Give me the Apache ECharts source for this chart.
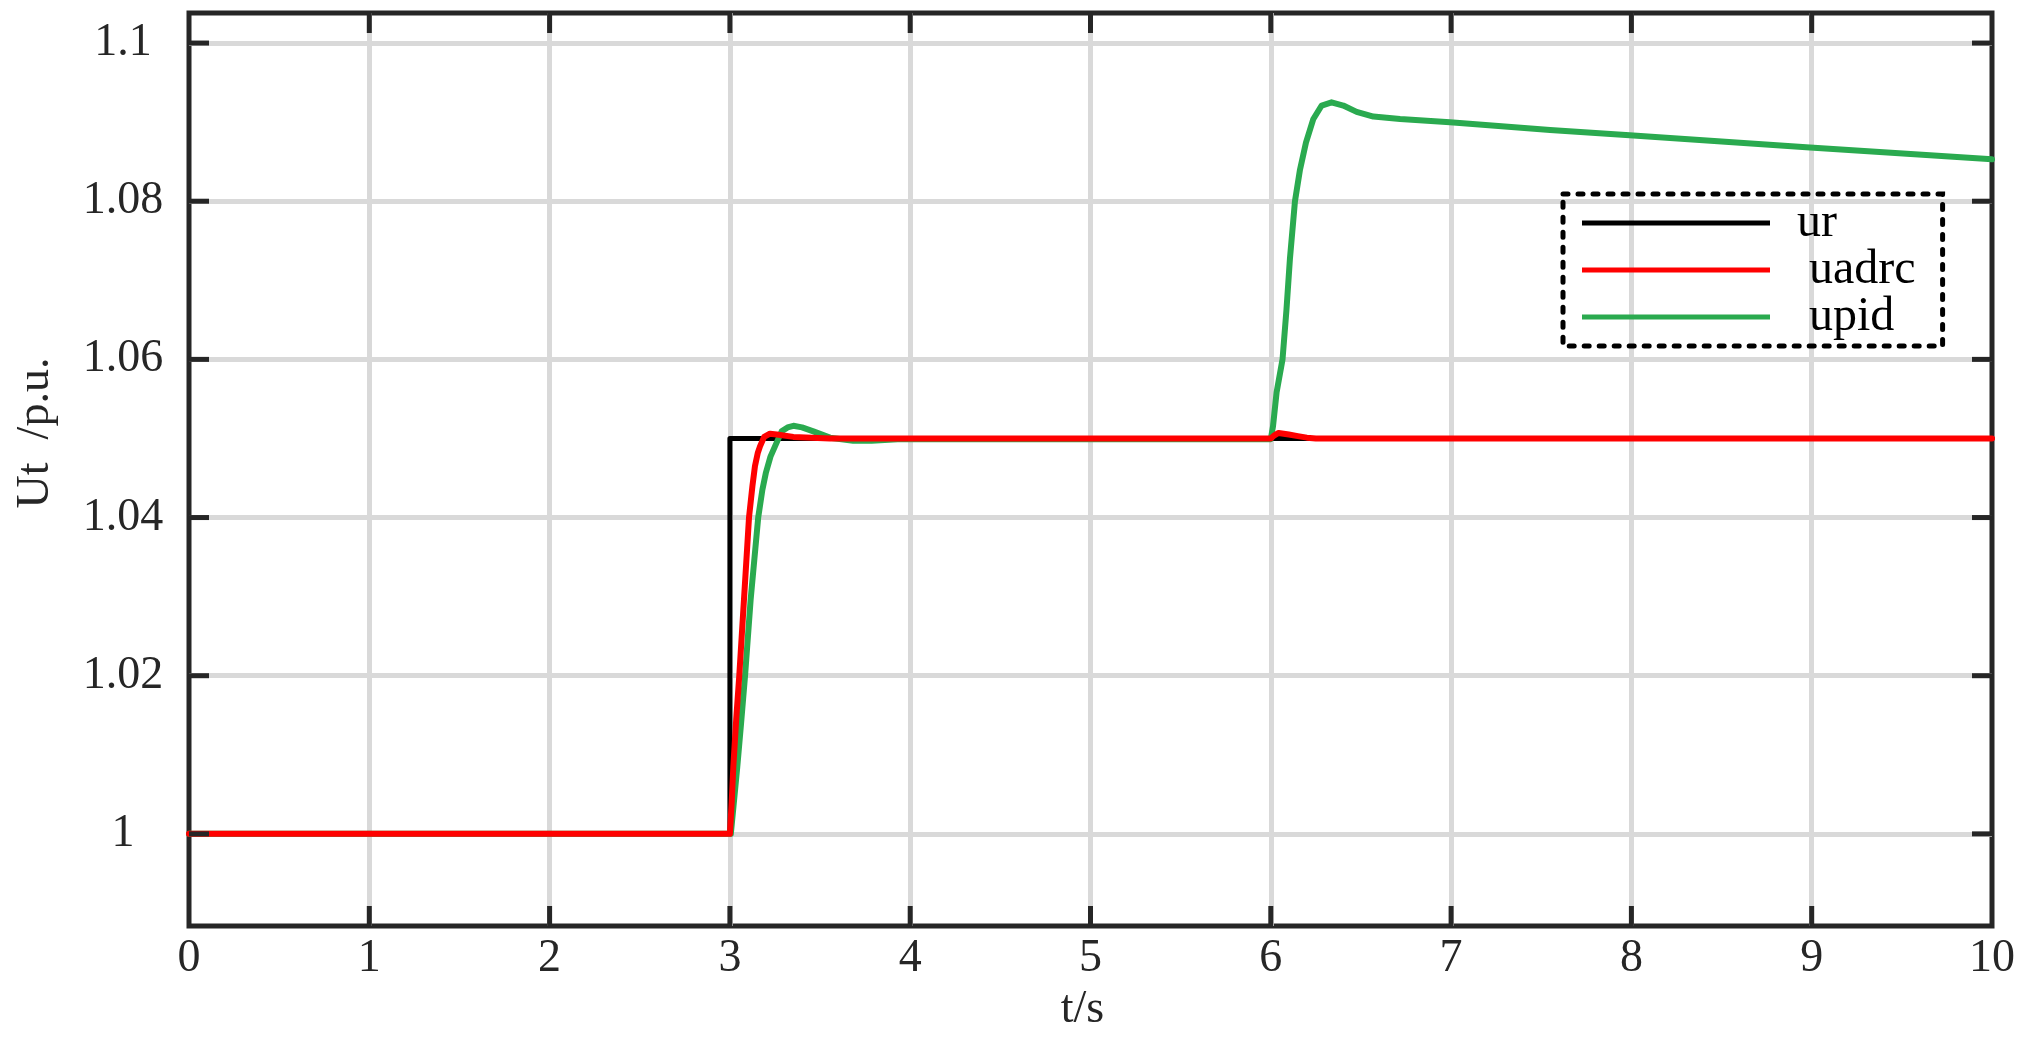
<!DOCTYPE html>
<html>
<head>
<meta charset="utf-8">
<script src="https://cdn.jsdelivr.net/npm/echarts@6/dist/echarts.min.js"></script>
<style>
  html, body { margin: 0; padding: 0; background: #fff; }
  #chart { width: 2019px; height: 1062px; }
</style>
</head>
<body>
<div id="chart"></div>
<script>
// step response of terminal voltage

const xLabels = [0, 1, 2, 3, 4, 5, 6, 7, 8, 9, 10];
const xTicks = [1, 2, 3, 4, 5, 6, 7, 8, 9];
const yTicks = [1, 1.02, 1.04, 1.06, 1.08, 1.1];

// reference
const urT = [0, 3, 3, 10];
const urY = [1, 1, 1.05, 1.05];

// ADRC
const adrcT = [0, 3.0, 3.01, 3.019, 3.035, 3.052, 3.078, 3.106, 3.125, 3.139, 3.155, 3.167, 3.19, 3.222, 3.26, 3.352, 3.555,
    6.0, 6.02, 6.043, 6.1, 6.15, 6.2, 6.25, 10];
const adrcY = [1, 1, 1.004, 1.0085, 1.0145, 1.02, 1.0296, 1.04, 1.044, 1.0465, 1.0482, 1.049, 1.0502, 1.0506, 1.0505, 1.0502, 1.05,
    1.05, 1.0504, 1.0507, 1.0505, 1.0503, 1.0501, 1.05, 1.05];

// PID
const pidT = [0, 3.005, 3.02, 3.041, 3.062, 3.084, 3.115, 3.157, 3.18, 3.2, 3.225, 3.25, 3.287, 3.32, 3.352, 3.4, 3.463, 3.555,
    3.684, 3.786, 3.93, 6.0, 6.012, 6.032, 6.065, 6.087, 6.106, 6.134, 6.162, 6.195, 6.236, 6.282, 6.337, 6.402, 6.476, 6.569,
    6.717, 6.994, 7.549, 7.99, 8.99, 10];
const pidY = [1, 1, 1.0035, 1.0085, 1.014, 1.02, 1.0296, 1.04, 1.0435, 1.0457, 1.0477, 1.049, 1.0509, 1.0514, 1.0516, 1.0514, 1.0509, 1.0501,
    1.0497, 1.0497, 1.0499, 1.0499, 1.0515, 1.0558, 1.06, 1.0663, 1.0727, 1.08, 1.084, 1.0874, 1.0904, 1.0921, 1.0925, 1.0921, 1.0913, 1.0907,
    1.0904, 1.09, 1.089, 1.08835, 1.0868, 1.0853];

const pairs = (t, y) => t.map((v, i) => [v, y[i]]);

const FONT = 'Liberation Serif';
const AXIS = '#262626';
const GRID = '#d9d9d9';
const TICK_LEN = 20;

const X_MIN = 0, X_MAX = 10;
const Y_MIN = 0.98835, Y_MAX = 1.1038;

const chart = echarts.init(document.getElementById('chart'));

// inward tick marks on all four sides of the frame, placed by the axis scales
function tickSeries(vals, side) {
    const data = vals.map(v => (side === 'left' || side === 'right') ? [X_MIN, v] : [v, Y_MIN]);
    return {
        type: 'custom', silent: true, clip: false, z: 5,
        data: data,
        renderItem: function (params, api) {
            let p, d;
            if (side === 'bottom') { p = api.coord([api.value(0), Y_MIN]); d = [0, -TICK_LEN]; }
            else if (side === 'top') { p = api.coord([api.value(0), Y_MAX]); d = [0, TICK_LEN]; }
            else if (side === 'left') { p = api.coord([X_MIN, api.value(1)]); d = [TICK_LEN, 0]; }
            else { p = api.coord([X_MAX, api.value(1)]); d = [-TICK_LEN, 0]; }
            return {
                type: 'line',
                shape: { x1: p[0], y1: p[1], x2: p[0] + d[0], y2: p[1] + d[1] },
                style: { stroke: AXIS, lineWidth: 5 }
            };
        }
    };
}

const option = {
    animation: false,
    backgroundColor: '#fff',
    grid: {
        left: 189, right: 27, top: 13, bottom: 136,
        show: true, borderColor: AXIS, borderWidth: 5
    },
    legend: {
        left: 1563, top: 194,
        orient: 'vertical',
        data: ['ur', ' uadrc', ' upid'],
        icon: 'rect',
        itemWidth: 188, itemHeight: 5, itemGap: -1,
        padding: [5, 27, 5, 19],
        borderColor: '#000', borderWidth: 5,
        borderType: [5, 10], borderCap: 'round',
        textStyle: { fontFamily: FONT, fontSize: 48, color: '#000', padding: [0, 0, 0, 22] }
    },
    xAxis: {
        type: 'value', min: X_MIN, max: X_MAX,
        name: 't/s', nameLocation: 'middle', nameGap: 60,
        nameTextStyle: { fontFamily: FONT, fontSize: 46, color: AXIS, padding: [0, 16, 0, 0] },
        axisLine: { show: false },
        axisTick: { show: false, customValues: xTicks },
        axisLabel: { customValues: xLabels, fontFamily: FONT, fontSize: 46, color: AXIS, margin: 10 },
        splitLine: { show: true, lineStyle: { color: GRID, width: 5 } }
    },
    yAxis: {
        type: 'value', min: Y_MIN, max: Y_MAX,
        name: 'Ut  /p.u.', nameLocation: 'middle', nameGap: 130,
        nameTextStyle: { fontFamily: FONT, fontSize: 46, color: AXIS, padding: [0, 0, 0, 73] },
        axisLine: { show: false },
        axisTick: { show: false, customValues: yTicks },
        axisLabel: { customValues: yTicks, fontFamily: FONT, fontSize: 46, color: AXIS, margin: 66, align: 'center' },
        splitLine: { show: true, lineStyle: { color: GRID, width: 5 } }
    },
    series: [
        {
            name: 'ur', type: 'line', data: pairs(urT, urY), showSymbol: false,
            color: '#000', lineStyle: { width: 5, color: '#000', cap: 'round', join: 'round' }
        },
        {
            name: ' upid', type: 'line', data: pairs(pidT, pidY), showSymbol: false,
            color: '#2aaa4f', lineStyle: { width: 6, color: '#2aaa4f', cap: 'round', join: 'round' }
        },
        {
            name: ' uadrc', type: 'line', data: pairs(adrcT, adrcY), showSymbol: false,
            color: '#ff0000', lineStyle: { width: 6, color: '#ff0000', cap: 'round', join: 'round' }
        },
        tickSeries(xTicks, 'bottom'),
        tickSeries(xTicks, 'top'),
        tickSeries(yTicks, 'left'),
        tickSeries(yTicks, 'right')
    ]
};

chart.setOption(option);
</script>
</body>
</html>
